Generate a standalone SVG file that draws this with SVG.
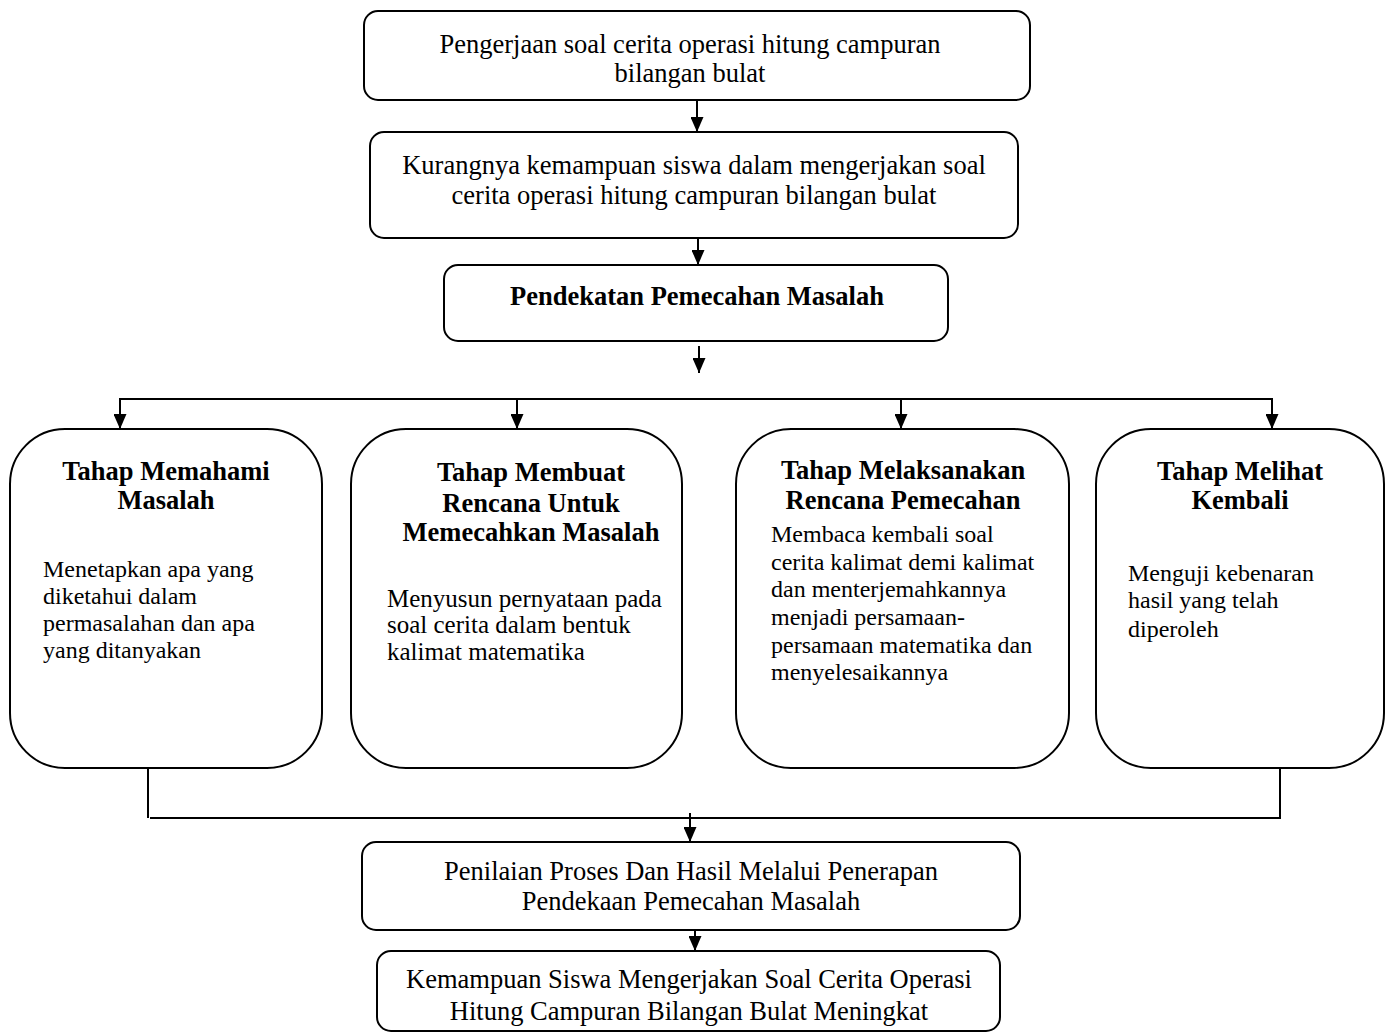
<svg xmlns="http://www.w3.org/2000/svg" width="1392" height="1034" viewBox="0 0 1392 1034">
<defs>
<marker id="ah" viewBox="0 0 15 13" refX="15" refY="6.5" markerWidth="15" markerHeight="13" markerUnits="userSpaceOnUse" orient="auto">
<path d="M0,0 L15,6.5 L0,13 Z" fill="#000"/>
</marker>
<style>
.box{fill:#fff;stroke:#000;stroke-width:2}
.t{font-family:"Liberation Serif","Times New Roman",serif;font-size:24px;fill:#000}
.m{font-size:26.5px}
.c{text-anchor:middle}
.b{font-weight:bold;font-size:26.5px}
.ln{fill:none;stroke:#000;stroke-width:2}
</style>
</defs>
<rect width="1392" height="1034" fill="#fff"/>
<g id="connectors">
<line class="ln" x1="697" y1="100" x2="697" y2="132" marker-end="url(#ah)"/>
<line class="ln" x1="698" y1="238" x2="698" y2="265" marker-end="url(#ah)"/>
<line class="ln" x1="699" y1="346" x2="699" y2="373" marker-end="url(#ah)"/>
<line class="ln" x1="119" y1="399" x2="1273" y2="399"/>
<line class="ln" x1="120" y1="398" x2="120" y2="429" marker-end="url(#ah)"/>
<line class="ln" x1="517" y1="398" x2="517" y2="429" marker-end="url(#ah)"/>
<line class="ln" x1="901" y1="398" x2="901" y2="429" marker-end="url(#ah)"/>
<line class="ln" x1="1272" y1="398" x2="1272" y2="429" marker-end="url(#ah)"/>
<line class="ln" x1="148" y1="764" x2="148" y2="818"/>
<polyline class="ln" points="150,818 1280,818 1280,764"/>
<line class="ln" x1="690" y1="813" x2="690" y2="842" marker-end="url(#ah)"/>
<line class="ln" x1="695" y1="926" x2="695" y2="951" marker-end="url(#ah)"/>
</g>
<g id="n1">
<rect class="box" x="364" y="11" width="666" height="89" rx="14"/>
<text class="t m c" x="690" y="53">Pengerjaan soal cerita operasi hitung campuran</text>
<text class="t m c" x="690" y="82">bilangan bulat</text>
</g>
<g id="n2">
<rect class="box" x="370" y="132" width="648" height="106" rx="14"/>
<text class="t m c" x="694" y="174">Kurangnya kemampuan siswa dalam mengerjakan soal</text>
<text class="t m c" x="694" y="204">cerita operasi hitung campuran bilangan bulat</text>
</g>
<g id="n3">
<rect class="box" x="444" y="265" width="504" height="76" rx="14"/>
<text class="t c b" x="697" y="305">Pendekatan Pemecahan Masalah</text>
</g>
<g id="n4">
<rect class="box" x="10" y="429" width="312" height="339" rx="55"/>
<text class="t c b" x="166" y="480">Tahap Memahami</text>
<text class="t c b" x="166" y="509">Masalah</text>
<text class="t" x="43" y="577">Menetapkan apa yang</text>
<text class="t" x="43" y="604">diketahui dalam</text>
<text class="t" x="43" y="631">permasalahan dan apa</text>
<text class="t" x="43" y="658">yang ditanyakan</text>
</g>
<g id="n5">
<rect class="box" x="351" y="429" width="331" height="339" rx="55"/>
<text class="t c b" x="531" y="481">Tahap Membuat</text>
<text class="t c b" x="531" y="512">Rencana Untuk</text>
<text class="t c b" x="531" y="541">Memecahkan Masalah</text>
<text class="t" x="387" y="607" style="font-size:25px">Menyusun pernyataan pada</text>
<text class="t" x="387" y="633" style="font-size:25px">soal cerita dalam bentuk</text>
<text class="t" x="387" y="660" style="font-size:25px">kalimat matematika</text>
</g>
<g id="n6">
<rect class="box" x="736" y="429" width="333" height="339" rx="55"/>
<text class="t c b" x="903" y="479">Tahap Melaksanakan</text>
<text class="t c b" x="903" y="509">Rencana Pemecahan</text>
<text class="t" x="771" y="542">Membaca kembali soal</text>
<text class="t" x="771" y="570">cerita kalimat demi kalimat</text>
<text class="t" x="771" y="597">dan menterjemahkannya</text>
<text class="t" x="771" y="625">menjadi persamaan-</text>
<text class="t" x="771" y="653">persamaan matematika dan</text>
<text class="t" x="771" y="680">menyelesaikannya</text>
</g>
<g id="n7">
<rect class="box" x="1096" y="429" width="288" height="339" rx="55"/>
<text class="t c b" x="1240" y="480">Tahap Melihat</text>
<text class="t c b" x="1240" y="509">Kembali</text>
<text class="t" x="1128" y="581">Menguji kebenaran</text>
<text class="t" x="1128" y="608">hasil yang telah</text>
<text class="t" x="1128" y="637">diperoleh</text>
</g>
<g id="n8">
<rect class="box" x="362" y="842" width="658" height="88" rx="14"/>
<text class="t m c" x="691" y="880">Penilaian Proses Dan Hasil Melalui Penerapan</text>
<text class="t m c" x="691" y="910">Pendekaan Pemecahan Masalah</text>
</g>
<g id="n9">
<rect class="box" x="377" y="951" width="623" height="80" rx="14"/>
<text class="t m c" x="689" y="988">Kemampuan Siswa Mengerjakan Soal Cerita Operasi</text>
<text class="t m c" x="689" y="1020">Hitung Campuran Bilangan Bulat Meningkat</text>
</g>
</svg>
